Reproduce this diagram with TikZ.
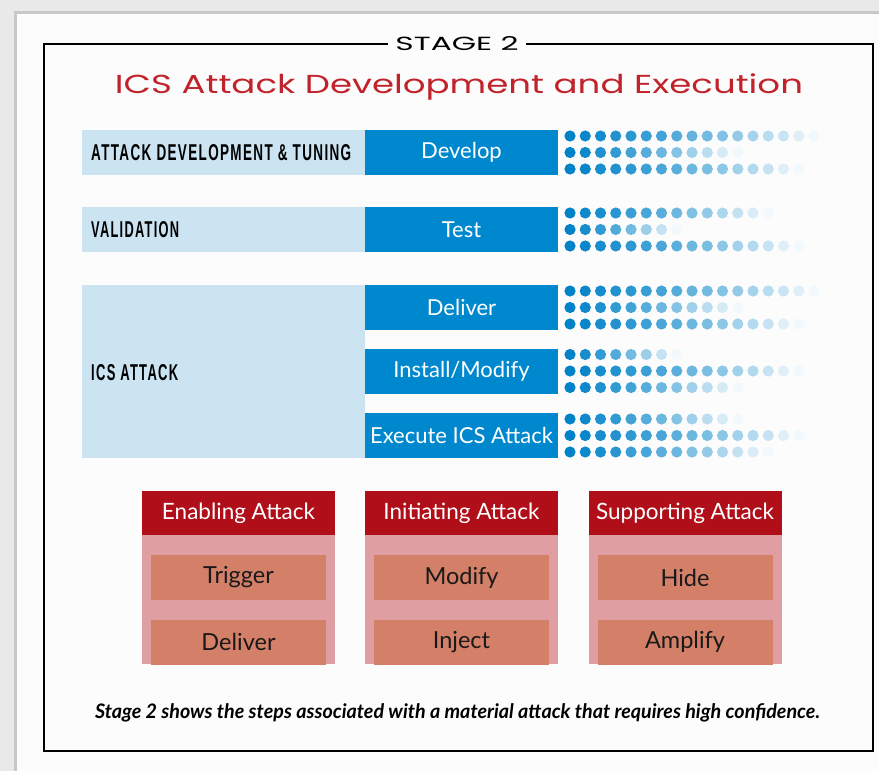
\documentclass[tikz,border=0pt]{standalone}
\usepackage{fontspec}
\usepackage{graphicx}
\setmainfont{Lato}
\newfontfamily\titlefont{Poppins}
\newfontfamily\labelfont[LetterSpace=10]{Liberation Sans}
\definecolor{bgray}{HTML}{E9E9E9}
\definecolor{shadowc}{HTML}{C8C8C8}
\definecolor{pagec}{HTML}{FCFCFC}
\definecolor{bandc}{HTML}{CCE4F2}
\definecolor{boxblue}{HTML}{0088CE}
\definecolor{dotblue}{HTML}{0082C8}
\definecolor{titlered}{HTML}{C1232B}
\definecolor{hdrred}{HTML}{B00F19}
\definecolor{bodypink}{HTML}{DE9EA2}
\definecolor{innersal}{HTML}{D47F68}
\begin{document}
\begin{tikzpicture}[x=1pt,y=-1pt,
  band/.style={fill=bandc, inner sep=0pt, minimum width=283pt},
  bluebox/.style={fill=boxblue, text=white, inner sep=0pt, minimum width=193pt, minimum height=45pt, font=\fontsize{22}{26}\selectfont},
  rowlabel/.style={anchor=west, inner sep=0pt, text=black},
  colbody/.style={fill=bodypink, inner sep=0pt, minimum width=193pt, minimum height=129pt},
  colhead/.style={fill=hdrred, text=white, inner sep=0pt, minimum width=193pt, minimum height=44pt, font=\fontsize{22.5}{26}\selectfont},
  inner/.style={fill=innersal, text=black!90, inner sep=0pt, minimum width=175pt, minimum height=45pt, font=\fontsize{23.5}{27}\selectfont}]
\fill[bgray] (0,0) rectangle (879,771);
\useasboundingbox (0,0) rectangle (879,771);
\fill[shadowc] (14,11) rectangle (879,771);
\fill[pagec] (17,14) rectangle (879,771);
% frame
\draw[line width=1.8pt, black] (44,44) rectangle (873,751);
\node[fill=pagec, inner xsep=7pt, inner ysep=3pt] (stage) at (457,44)
  {\resizebox{123pt}{14pt}{\titlefont STAGE 2}};
% title
\node[inner sep=0pt, text=titlered, anchor=base] (title) at (459,93)
  {\resizebox{688pt}{\height}{\titlefont\fontsize{26}{30}\selectfont ICS Attack Development and Execution}};
% bands
\node[band, minimum height=45pt] (b1) at (223.5,152.5) {};
\node[band, minimum height=45pt] (b2) at (223.5,229.5) {};
\node[band, minimum height=173pt] (b3) at (223.5,371.5) {};
\node[rowlabel] (l1) at (91,153) {\resizebox{260pt}{16pt}{\labelfont\bfseries ATTACK DEVELOPMENT \& TUNING}};
\node[rowlabel] (l2) at (91,230) {\resizebox{88pt}{16pt}{\labelfont\bfseries VALIDATION}};
\node[rowlabel] (l3) at (91,372.5) {\resizebox{87pt}{16pt}{\labelfont\bfseries ICS ATTACK}};
% blue boxes
\node[bluebox] (develop) at (461.5,152.5) {Develop};
\node[bluebox] (test) at (461.5,229.5) {Test};
\node[bluebox] (deliver) at (461.5,307.5) {Deliver};
\node[bluebox] (install) at (461.5,371) {Install/Modify};
\node[bluebox] (execute) at (461.5,435.5) {Execute ICS Attack};
% dots
\foreach \yy/\n in {136/17,152.5/12,169/16,
                    213/14,229.5/8,246/16,
                    291/17,307.5/12,324/16,
                    354.5/8,371/16,387.5/12,
                    419/12,435.5/16,452/14}{
  \foreach \i in {0,...,\numexpr\n-1\relax}{
    \pgfmathsetmacro{\t}{\i/(\n-1)}
    \pgfmathtruncatemacro{\p}{100-95*\t*(0.6+0.4*\t)}
    \fill[dotblue!\p!white] (570+15.25*\i,\yy) circle (5.6pt);
  }
}
% bottom columns
\foreach \cx/\nm/\hd/\ia/\ib in {238.5/ena/Enabling Attack/Trigger/Deliver,
                                  461.5/ini/Initiating Attack/Modify/Inject,
                                  685/sup/Supporting Attack/Hide/Amplify}{
  \node[colbody] (\nm body) at (\cx,599.5) {};
  \node[colhead] (\nm head) at (\cx,513) {\hd};
  \node[inner] (\nm a) at (\cx,577.5) {\ia};
  \node[inner] (\nm b) at (\cx,642) {\ib};
}
% caption
\node[inner sep=0pt, anchor=base] (caption) at (457.5,718)
  {\resizebox{725pt}{\height}{\fontsize{20}{24}\selectfont\bfseries\itshape Stage 2 shows the steps associated with a material attack that requires high confidence.}};
\end{tikzpicture}
\end{document}
